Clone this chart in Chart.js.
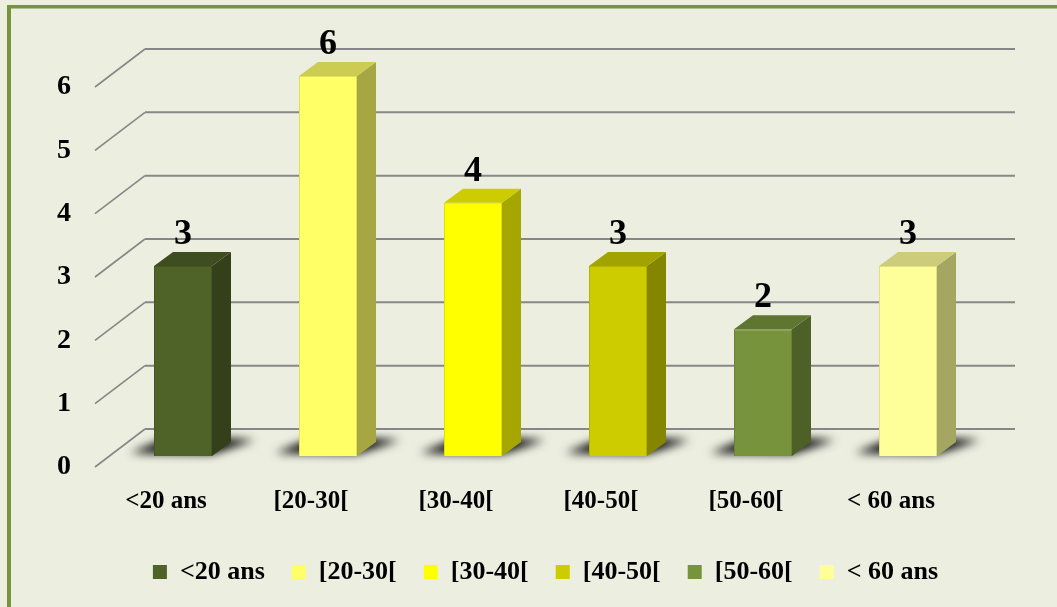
<!DOCTYPE html>
<html>
<head>
<meta charset="utf-8">
<script src="https://cdn.jsdelivr.net/npm/chart.js@4.4.1/dist/chart.umd.min.js"></script>
<style>
  html, body { margin: 0; padding: 0; background: #ECEFE0; }
  canvas { display: block; }
</style>
</head>
<body>
<canvas id="c" width="1057" height="607"></canvas>
<script>
// Age groups and number of people in each
const categories = ['<20 ans', '[20-30[', '[30-40[', '[40-50[', '[50-60[', '< 60 ans'];
const counts = [3, 6, 4, 3, 2, 3];
const yTickMax = 6;
const yTickStep = 1;
const barColors = ['#4F6228', '#FFFF66', '#FFFF00', '#CCCC00', '#77933C', '#FFFF99'];

const FONT = '"Liberation Serif", "Times New Roman", serif';
const BG = '#ECEFE0';
const FRAME = '#77933C';
const GRID = '#878787';

// 3D geometry (pixels)
const DEPTH_X = 19, DEPTH_Y = 14;     // bar depth
const WALL_X = 34.5, WALL_Y = 27;     // back wall relative to the bar fronts
const FLOOR_X = 50, FLOOR_Y = 38;     // floor depth (front edge to back wall)

function shade(hex, f) {
  const n = parseInt(hex.slice(1), 16);
  const r = Math.round(((n >> 16) & 255) * f);
  const g = Math.round(((n >> 8) & 255) * f);
  const b = Math.round((n & 255) * f);
  return `rgb(${r},${g},${b})`;
}

const chart3d = {
  id: 'chart3d',
  beforeDraw(chart) {
    const { ctx, width, height } = chart;
    ctx.save();
    ctx.fillStyle = BG;
    ctx.fillRect(0, 0, width, height);
    ctx.fillStyle = FRAME;
    ctx.fillRect(7, 5, width - 7, 3.5);
    ctx.fillRect(7, 5, 4, height - 5);
    ctx.restore();
  },
  beforeDatasetsDraw(chart) {
    const { ctx, chartArea: a } = chart;
    const ys = chart.scales.y;
    ctx.save();
    // back wall grid lines with their floor diagonals
    ys.ticks.forEach(t => {
      const yb = ys.getPixelForValue(t.value) - WALL_Y;
      const xl = a.left + WALL_X;
      ctx.strokeStyle = GRID;
      ctx.lineWidth = 2;
      ctx.beginPath();
      ctx.moveTo(xl, yb);
      ctx.lineTo(a.right + WALL_X, yb);
      ctx.stroke();
      ctx.lineWidth = 1.6;
      ctx.beginPath();
      ctx.moveTo(xl - FLOOR_X, yb + FLOOR_Y);
      ctx.lineTo(xl, yb);
      ctx.stroke();
    });
    // soft shadows on the floor under each bar
    const meta = chart.getDatasetMeta(0);
    ctx.filter = 'blur(5px)';
    ctx.fillStyle = 'rgba(0,0,0,1)';
    meta.data.forEach(bar => {
      const x0 = bar.x - bar.width / 2, x1 = bar.x + bar.width / 2, yb = bar.base;
      ctx.beginPath();
      ctx.moveTo(x0 - 24, yb - 3);
      ctx.lineTo(x1, yb - 2);
      ctx.lineTo(x1 + DEPTH_X + 24, yb - DEPTH_Y - 2);
      ctx.lineTo(x0 + DEPTH_X, yb - DEPTH_Y - 6);
      ctx.closePath();
      ctx.fill();
    });
    ctx.restore();
  },
  afterDatasetsDraw(chart) {
    const { ctx } = chart;
    const meta = chart.getDatasetMeta(0);
    ctx.save();
    meta.data.forEach((bar, i) => {
      const c = barColors[i];
      const x0 = bar.x - bar.width / 2, x1 = bar.x + bar.width / 2;
      const yt = bar.y, yb = bar.base;
      // side face
      ctx.fillStyle = shade(c, 0.65);
      ctx.beginPath();
      ctx.moveTo(x1, yt);
      ctx.lineTo(x1 + DEPTH_X, yt - DEPTH_Y);
      ctx.lineTo(x1 + DEPTH_X, yb - DEPTH_Y);
      ctx.lineTo(x1, yb);
      ctx.closePath();
      ctx.fill();
      // top face
      ctx.fillStyle = shade(c, 0.8);
      ctx.beginPath();
      ctx.moveTo(x0, yt);
      ctx.lineTo(x0 + DEPTH_X, yt - DEPTH_Y);
      ctx.lineTo(x1 + DEPTH_X, yt - DEPTH_Y);
      ctx.lineTo(x1, yt);
      ctx.closePath();
      ctx.fill();
      // value label
      ctx.fillStyle = '#000';
      ctx.font = `bold 36px ${FONT}`;
      ctx.textAlign = 'center';
      ctx.textBaseline = 'alphabetic';
      ctx.fillText(String(counts[i]), bar.x, yt - 22);
    });
    ctx.restore();
  }
};

new Chart(document.getElementById('c'), {
  type: 'bar',
  data: {
    labels: categories,
    datasets: [{
      data: counts,
      backgroundColor: barColors,
      borderColor: barColors.map(c => shade(c, 0.88)),
      borderWidth: 1,
      barPercentage: 0.4,
      categoryPercentage: 1
    }]
  },
  options: {
    responsive: false,
    animation: false,
    events: [],
    layout: { autoPadding: false, padding: { left: 40, right: 76.5, top: 76, bottom: 12 } },
    scales: {
      x: {
        grid: { display: false, drawTicks: false },
        border: { display: false },
        ticks: {
          color: '#000',
          font: { family: FONT, size: 25, weight: 'bold' },
          padding: 31,
          labelOffset: -17,
          maxRotation: 0
        },
        afterFit(scale) { scale.height = 76; }
      },
      y: {
        min: 0,
        max: yTickMax,
        grid: { display: false, drawTicks: false },
        border: { display: false },
        ticks: {
          stepSize: yTickStep,
          color: '#000',
          font: { family: FONT, size: 28, weight: 'bold' },
          padding: 39.5,
          labelOffset: 11
        },
        afterFit(scale) { scale.width = 70.5; }
      }
    },
    plugins: {
      tooltip: { enabled: false },
      legend: {
        position: 'bottom',
        fullSize: false,
        labels: {
          color: '#000',
          font: { family: FONT, size: 26, weight: 'bold' },
          boxWidth: 14,
          boxHeight: 14,
          padding: 27,
          generateLabels: (chart) => categories.map((label, i) => ({
            text: label,
            fillStyle: barColors[i],
            strokeStyle: barColors[i],
            lineWidth: 0,
            hidden: false,
            index: i,
            datasetIndex: 0
          }))
        }
      }
    }
  },
  plugins: [chart3d]
});
</script>
</body>
</html>
